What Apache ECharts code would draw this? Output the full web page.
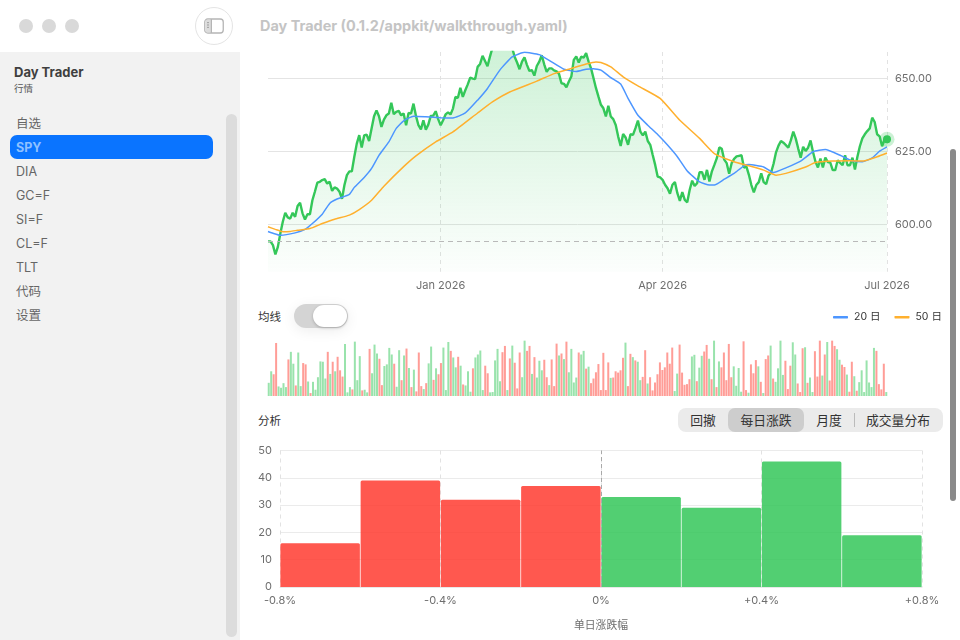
<!DOCTYPE html>
<html style="height: 100%">
<head>
<meta charset="utf-8">
<style>
  body { margin: 0; height: 100%; background: #fff; overflow: hidden; font-family: Inter, "Noto Sans CJK SC", sans-serif; }
  #shell { position: absolute; left: 0; top: 0; width: 960px; height: 640px; }
  #container { position: absolute; left: 0; top: 0; width: 960px; height: 640px; }
  .abs { position: absolute; white-space: nowrap; }
  .dot { position: absolute; top: 19px; width: 14px; height: 14px; border-radius: 50%; background: #d9d9d9; }
  .nav { position: absolute; left: 16px; font-size: 12.5px; line-height: 16px; color: #666; white-space: nowrap; }
  .seg { position: absolute; top: 409px; height: 24px; line-height: 24px; text-align: center; font-size: 12.8px; color: #333; }
</style>
</head>
<body>
<div id="shell">
  <div class="abs" style="left:0;top:52px;width:240px;height:588px;background:#f2f2f2"></div>
  <div class="dot" style="left:19px"></div>
  <div class="dot" style="left:42px"></div>
  <div class="dot" style="left:65px"></div>
  <div class="abs" style="left:195px;top:7px;width:36px;height:36px;border:1px solid #e4e4e4;border-radius:50%"></div>
  <svg class="abs" style="left:204px;top:18px" width="20" height="16" viewBox="0 0 20 16">
    <rect x="0.75" y="1" width="18.5" height="14" rx="3" fill="none" stroke="#b5b5b5" stroke-width="1.3"/>
    <rect x="1.4" y="1.6" width="6" height="12.8" rx="2" fill="#dcdcdc"/>
    <line x1="7.4" y1="1" x2="7.4" y2="15" stroke="#b5b5b5" stroke-width="1.2"/>
    <rect x="3" y="4" width="2" height="1.2" fill="#a8a8a8"/>
    <rect x="3" y="6.4" width="2" height="1.2" fill="#a8a8a8"/>
    <rect x="3" y="8.8" width="2" height="1.2" fill="#a8a8a8"/>
  </svg>
  <div class="abs" style="left:260px;top:17px;font-size:14.45px;line-height:18px;font-weight:700;color:#c4c4c4">Day Trader (0.1.2/appkit/walkthrough.yaml)</div>

  <div class="abs" style="left:14px;top:64px;font-size:13px;line-height:16px;font-weight:700;color:#3f3f3f">Day Trader</div>
  <div class="abs" style="left:14px;top:82px;font-size:9.5px;line-height:14px;color:#555">行情</div>
  <div class="abs" style="left:226px;top:114px;width:11px;height:523px;border-radius:5.5px;background:#dcdcdc"></div>
  <div class="abs" style="left:10px;top:135px;width:203px;height:24px;border-radius:7px;background:#0a74ff"></div>
  <div class="nav" style="top:116px">自选</div>
  <div class="nav" style="top:140px;font-weight:700;color:#8fc1ff">SPY</div>
  <div class="nav" style="top:164px">DIA</div>
  <div class="nav" style="top:188px">GC=F</div>
  <div class="nav" style="top:212px">SI=F</div>
  <div class="nav" style="top:236px">CL=F</div>
  <div class="nav" style="top:260px">TLT</div>
  <div class="nav" style="top:284px">代码</div>
  <div class="nav" style="top:308px">设置</div>

  <div class="abs" style="left:258px;top:309px;font-size:11.5px;line-height:16px;color:#333">均线</div>
  <div class="abs" style="left:294px;top:304px;width:54px;height:24px;border-radius:12px;background:#d4d4d4;box-shadow:0 3px 14px rgba(0,0,0,0.07)"></div>
  <div class="abs" style="left:313px;top:305px;width:34px;height:22px;border-radius:11px;background:#fff;box-shadow:0 1px 3px rgba(0,0,0,0.22)"></div>

  <div class="abs" style="left:258px;top:413px;font-size:11.5px;line-height:16px;color:#333">分析</div>
  <div class="abs" style="left:678px;top:408px;width:265px;height:24px;border-radius:8px;background:#ebebeb"></div>
  <div class="abs" style="left:728px;top:408px;width:76px;height:24px;border-radius:7px;background:#cdcdcd"></div>
  <div class="abs" style="left:854px;top:413px;width:1px;height:14px;background:#bbb"></div>
  <div class="seg" style="left:678px;width:50px">回撤</div>
  <div class="seg" style="left:728px;width:76px">每日涨跌</div>
  <div class="seg" style="left:804px;width:50px">月度</div>
  <div class="seg" style="left:855px;width:86px">成交量分布</div>

  <div class="abs" style="left:950px;top:149px;width:6px;height:352px;border-radius:3px;background:#8a8a8a"></div>
</div>
<div id="container"></div>
<script type="text/javascript" src="https://cdn.jsdelivr.net/npm/echarts@6/dist/echarts.min.js"></script>
<script type="text/javascript">
var fontName = 'Inter, "Noto Sans CJK SC", sans-serif';

// daily close, 2025-10-23 .. 2026-07-01
var closes = [
  594.2, 594.2, 592.9, 589.7, 592.3, 596.9, 600.9, 604, 602.4, 602,
  604, 602.6, 606.3, 607.4, 603.8, 601.7, 603.5, 603.5, 608.3, 611.2,
  614.3, 614.6, 615.2, 615.5, 614, 614.6, 611.5, 612.7, 612.3, 611.2,
  608.8, 613.5, 616.9, 618.2, 618.2, 623.2, 627.7, 630.6, 626.4, 630.5,
  630.8, 628.6, 632.9, 637.1, 639.1, 637.1, 633.4, 635.9, 637.4, 638,
  641.7, 637.8, 638.6, 638.9, 637.4, 638, 634, 638.2, 638, 641.4,
  637.2, 634, 632.6, 635.7, 632.5, 634.2, 637.2, 637.3, 638.8, 636.1,
  634, 635.7, 637.7, 638.4, 637.7, 639.7, 643.7, 643.4, 646.8, 643.7,
  646, 648, 650.3, 650, 649.8, 654, 655, 657.8, 656, 654.2,
  657.5, 660.5, 662, 663, 664, 663.5, 662, 663, 662, 660.5,
  657.5, 655.5, 653.2, 655.8, 657.3, 654.7, 652.6, 652.9, 651, 654.3,
  655.8, 658, 654.9, 652.3, 653.5, 653.5, 652.8, 652.5, 651.6, 648.4,
  648.2, 647, 649, 650.7, 656.4, 657.6, 655.5, 657.5, 657.2, 658.7,
  655.8, 653.5, 650.1, 646.7, 643.8, 641, 639.8, 637, 640.7, 637,
  636.1, 634.1, 630.1, 626.9, 631, 629.8, 627.3, 630.9, 630.7, 633,
  635.6, 631.8, 630.5, 631.8, 628.6, 627.3, 623.8, 620.4, 616.4, 616.1,
  615.3, 613.6, 612.4, 610.5, 613.6, 614.5, 610.7, 608.1, 611.1, 608.4,
  607.6, 611.9, 615, 613.2, 614.1, 617.9, 617.9, 615.3, 618.7, 614.7,
  618.2, 620.4, 622.7, 626.4, 625.9, 622.2, 621, 617.4, 621, 622.5,
  623.3, 623.5, 623.7, 619.5, 619.8, 617, 613.5, 611, 613.5, 614.5,
  617.5, 614.5, 613.8, 616.8, 617.8, 620.8, 624.7, 627, 628.6, 628,
  627.2, 626.3, 628.8, 631.8, 629.4, 626, 622.9, 626.6, 625.2, 626.3,
  628.8, 624.8, 621.5, 619.5, 622.6, 619.5, 622.9, 621.4, 621.2, 618.6,
  618.6, 622, 621.1, 620.3, 623.7, 620.3, 620.3, 622.9, 618.8, 623.2,
  626.8, 629.5, 630.9, 632, 632.9, 636.6, 635.1, 630.9, 630.2, 626.8,
  629.1, 629.2
];

// moving averages as [day index, value] readings
var ma20 = [
  [0, 597.6], [2, 597], [5, 596.3], [11, 597.1], [15, 598.3], [18, 600.3], [22, 603.5], [25, 607.2],
  [28, 608.7], [33, 610.3], [35, 612.7], [39, 616.1], [42, 619.2], [45, 623.7], [49, 628.3], [52, 632.9],
  [55, 635.5], [59, 637.1], [64, 636.9], [70, 636.6], [75, 636.5], [80, 638.2], [85, 642.6], [89, 646.6],
  [94, 652.9], [99, 657.4], [104, 659], [110, 658.2], [115, 655.7], [120, 653.2], [125, 652.4], [129, 653.2],
  [132, 653.4], [135, 652.9], [139, 650.3], [143, 648.1], [146, 643.2], [150, 637.4], [154, 634], [158, 630.8],
  [162, 627.2], [166, 623.2], [170, 618.3], [175, 614.6], [179, 613.5], [181, 613.5], [185, 615.5], [189, 617.5],
  [193, 620.1], [195, 620.5], [201, 619.7], [205, 617.8], [210, 619.4], [216, 621.7], [221, 624.9], [226, 625.7],
  [232, 623.7], [237, 621.7], [241, 621.5], [245, 622.8], [248, 625.1], [251, 626.6]
];
var ma50 = [
  [0, 599.2], [3, 598.3], [6, 597.5], [9, 597.6], [12, 598], [17, 598.6], [22, 600.3], [27, 601.8],
  [33, 603.2], [37, 605.1], [42, 608.3], [47, 613.1], [55, 619.8], [60, 623.5], [68, 628.3], [75, 631.7],
  [85, 638.2], [91, 642], [98, 645.4], [109, 649.1], [116, 651.7], [122, 653.2], [129, 655], [133, 655.7],
  [135, 655.5], [139, 654], [144, 650.6], [150, 647.5], [159, 643.2], [167, 635.7], [175, 629.5], [181, 624.3],
  [189, 621.5], [195, 620.1], [201, 618.6], [206, 616.9], [210, 617.5], [218, 619.7], [222, 621.2], [229, 621.7],
  [236, 621.8], [241, 621.7], [247, 623.2], [251, 624.5]
];

var volumes = [
  40, 75, 66, 161, 29, 25, 39, 27, 111, 134, 98, 32, 132, 30, 100, 96, 44, 9, 43, 19,
  57, 105, 104, 53, 134, 67, 104, 75, 119, 78, 59, 158, 11, 27, 20, 165, 48, 121, 17, 19,
  11, 143, 69, 156, 129, 113, 33, 91, 96, 146, 126, 98, 28, 139, 48, 123, 144, 85, 27, 80,
  14, 132, 30, 21, 39, 99, 150, 49, 84, 66, 100, 147, 18, 164, 137, 117, 87, 119, 92, 35,
  32, 75, 13, 84, 117, 126, 138, 18, 92, 69, 11, 12, 108, 143, 45, 133, 152, 18, 114, 153,
  101, 23, 132, 57, 168, 137, 152, 67, 118, 56, 107, 78, 110, 57, 33, 111, 30, 159, 123, 129,
  112, 165, 72, 143, 41, 56, 132, 126, 137, 83, 89, 39, 53, 72, 97, 18, 131, 18, 102, 55,
  56, 75, 71, 78, 116, 162, 30, 128, 118, 108, 104, 48, 58, 139, 38, 57, 17, 41, 66, 102,
  79, 87, 132, 98, 147, 15, 68, 156, 71, 34, 36, 51, 120, 125, 45, 86, 122, 135, 155, 113,
  51, 168, 27, 105, 87, 132, 48, 158, 57, 90, 31, 85, 13, 166, 18, 10, 96, 69, 109, 90,
  43, 9, 112, 123, 153, 53, 43, 84, 168, 64, 107, 21, 92, 163, 126, 38, 12, 145, 148, 40,
  56, 12, 136, 59, 168, 62, 126, 164, 47, 168, 152, 142, 110, 95, 88, 65, 13, 104, 60, 16,
  42, 78, 12, 108, 41, 27, 146, 137, 36, 20, 98, 12
];
// G = up day, R = down day, same order as volumes
var volumeSides = 'GGRRGGGGRGGRGGRRGRGG' + 'GGGGRGRGRRRGGGRGGGRG' + 'GRGGGRRGGGGRGGRGRGRG' + 'RRRGRGGRGRRGGGRGGRGR' +
  'GGGRGGGGRRGGGGGRRGRG' + 'RRRGGRRGRGGGRRGRRRGR' + 'GRGGGGRGGRGRRRRRRRRG' + 'RRRRRGRRGRGGRRGRRRRR' +
  'RRRRRGGRRRRRGGRGGRRG' + 'RGRGRRRRRGGGGRRGRRRG' + 'RGRRGRGGGGRRRGGRRRGR' + 'GGRRRGRGRRRGGRRGRRGR' +
  'GGGGGGGRRRRG';

var binCenters = [-0.7, -0.5, -0.3, -0.1, 0.1, 0.3, 0.5, 0.7];
var binCounts = [16, 39, 32, 37, 33, 29, 46, 19];

var priceTicks = [600, 625, 650];
var monthTicks = { '2026-01-01': 'Jan 2026', '2026-04-01': 'Apr 2026', '2026-07-01': 'Jul 2026' };

var days = [];
for (var i = 0; i < closes.length; i++) {
    days.push(new Date(Date.UTC(2025, 9, 23 + i)).toISOString().slice(0, 10));
}

var isMonthTick = function (index, value) {
    return monthTicks[value] !== undefined;
};

var volumeData = volumes.map(function (v, i) {
    return { value: v, itemStyle: { color: volumeSides[i] === 'G' ? 'rgba(52,199,89,0.5)' : 'rgba(255,59,48,0.5)' } };
});

var binData = binCenters.map(function (c, i) {
    return { value: [c, binCounts[i]], itemStyle: { color: c < 0 ? 'rgba(255,59,48,0.85)' : 'rgba(52,199,89,0.85)', borderRadius: [1.5, 1.5, 0, 0] } };
});

var myChart = echarts.init(document.getElementById('container'));

var option = {
    animation: false,
    textStyle: { fontFamily: fontName },
    legend: {
        left: 833,
        top: 312,
        padding: 0,
        icon: 'roundRect',
        itemWidth: 15,
        itemHeight: 2.5,
        itemGap: 14,
        selectedMode: false,
        data: ['20 日', '50 日'],
        textStyle: { fontSize: 10.5, color: '#333', fontFamily: fontName, padding: [0, 0, 0, 1] }
    },
    grid: [
        { left: 268, top: 52, width: 619, height: 219.7 },
        { left: 267.5, top: 340, width: 620, height: 56 },
        { left: 280, top: 450.5, width: 642, height: 136.5 }
    ],
    xAxis: [
        {
            type: 'category',
            gridIndex: 0,
            data: days,
            boundaryGap: false,
            axisLine: { show: false },
            axisTick: { show: false },
            axisLabel: {
                interval: isMonthTick,
                color: '#6e6e6e',
                fontSize: 11,
                margin: 8,
                formatter: function (value) { return monthTicks[value]; }
            },
            splitLine: {
                show: true,
                interval: isMonthTick,
                lineStyle: { color: '#e2e2e2', type: [4, 4] }
            }
        },
        {
            type: 'category',
            gridIndex: 1,
            data: days,
            show: false
        },
        {
            type: 'value',
            gridIndex: 2,
            min: -0.8,
            max: 0.8,
            interval: 0.4,
            name: '单日涨跌幅',
            nameLocation: 'middle',
            nameGap: 33,
            nameTextStyle: { fontSize: 10.8, color: '#6e6e6e' },
            axisLine: { show: true, lineStyle: { color: '#e8e8e8' } },
            axisTick: { show: false },
            axisLabel: {
                color: '#6e6e6e',
                fontSize: 11,
                margin: 8,
                hideOverlap: false,
                formatter: function (v) {
                    if (v === 0) return '0%';
                    return (v > 0 ? '+' : '') + v.toFixed(1) + '%';
                }
            },
            splitLine: { show: true, lineStyle: { color: '#e2e2e2', type: [4, 4] } }
        }
    ],
    yAxis: [
        {
            type: 'value',
            gridIndex: 0,
            position: 'right',
            min: 583.8,
            max: 659.1,
            axisLine: { show: false },
            axisTick: { show: false, customValues: priceTicks },
            axisLabel: {
                customValues: priceTicks,
                color: '#6e6e6e',
                fontSize: 11,
                margin: 8,
                padding: [3, 0, 0, 0],
                formatter: function (v) { return v.toFixed(2); }
            },
            splitLine: { show: true, lineStyle: { color: '#e4e4e4' } }
        },
        {
            type: 'value',
            gridIndex: 1,
            min: 0,
            max: 170,
            show: false
        },
        {
            type: 'value',
            gridIndex: 2,
            min: 0,
            max: 50,
            interval: 10,
            axisLine: { show: false },
            axisTick: { show: false },
            axisLabel: { color: '#6e6e6e', fontSize: 11, margin: 8, padding: [4, 0, 0, 0] },
            splitLine: { show: true, lineStyle: { color: '#ebebeb' } }
        }
    ],
    series: [
        {
            name: '收盘',
            type: 'line',
            xAxisIndex: 0,
            yAxisIndex: 0,
            data: closes,
            showSymbol: false,
            color: '#34c759',
            lineStyle: { width: 2.4, color: '#34c759' },
            areaStyle: {
                color: new echarts.graphic.LinearGradient(0, 0, 0, 1, [
                    { offset: 0, color: 'rgba(52,199,89,0.36)' },
                    { offset: 1, color: 'rgba(52,199,89,0.02)' }
                ])
            },
            markLine: {
                silent: true,
                symbol: 'none',
                label: { show: false },
                lineStyle: { color: '#b9b9b9', type: [5, 4], width: 1 },
                data: [{ yAxis: closes[0] }]
            },
            z: 2
        },
        {
            name: '20 日',
            type: 'line',
            xAxisIndex: 0,
            yAxisIndex: 0,
            data: ma20,
            showSymbol: false,
            smooth: 0.15,
            color: '#4d96ff',
            lineStyle: { width: 1.5, color: '#4d96ff' },
            z: 3
        },
        {
            name: '50 日',
            type: 'line',
            xAxisIndex: 0,
            yAxisIndex: 0,
            data: ma50,
            showSymbol: false,
            smooth: 0.15,
            color: '#ffb02e',
            lineStyle: { width: 1.5, color: '#ffb02e' },
            z: 3
        },
        {
            name: '最新光晕',
            type: 'scatter',
            xAxisIndex: 0,
            yAxisIndex: 0,
            clip: false,
            silent: true,
            symbolSize: 15,
            itemStyle: { color: 'rgba(52,199,89,0.25)', opacity: 1 },
            data: [[closes.length - 1, closes[closes.length - 1]]],
            z: 4
        },
        {
            name: '最新',
            type: 'scatter',
            xAxisIndex: 0,
            yAxisIndex: 0,
            clip: false,
            silent: true,
            symbolSize: 8,
            itemStyle: { color: '#34c759', opacity: 1 },
            data: [[closes.length - 1, closes[closes.length - 1]]],
            z: 5
        },
        {
            name: '成交量',
            type: 'bar',
            xAxisIndex: 1,
            yAxisIndex: 1,
            barWidth: 2,
            data: volumeData
        },
        {
            name: '每日涨跌',
            type: 'bar',
            xAxisIndex: 2,
            yAxisIndex: 2,
            barWidth: 79.5,
            data: binData,
            markLine: {
                silent: true,
                symbol: 'none',
                label: { show: false },
                lineStyle: { color: '#a9a9a9', type: [4, 3], width: 1 },
                data: [{ xAxis: 0 }]
            }
        }
    ]
};

myChart.setOption(option);
</script>
</body>
</html>
